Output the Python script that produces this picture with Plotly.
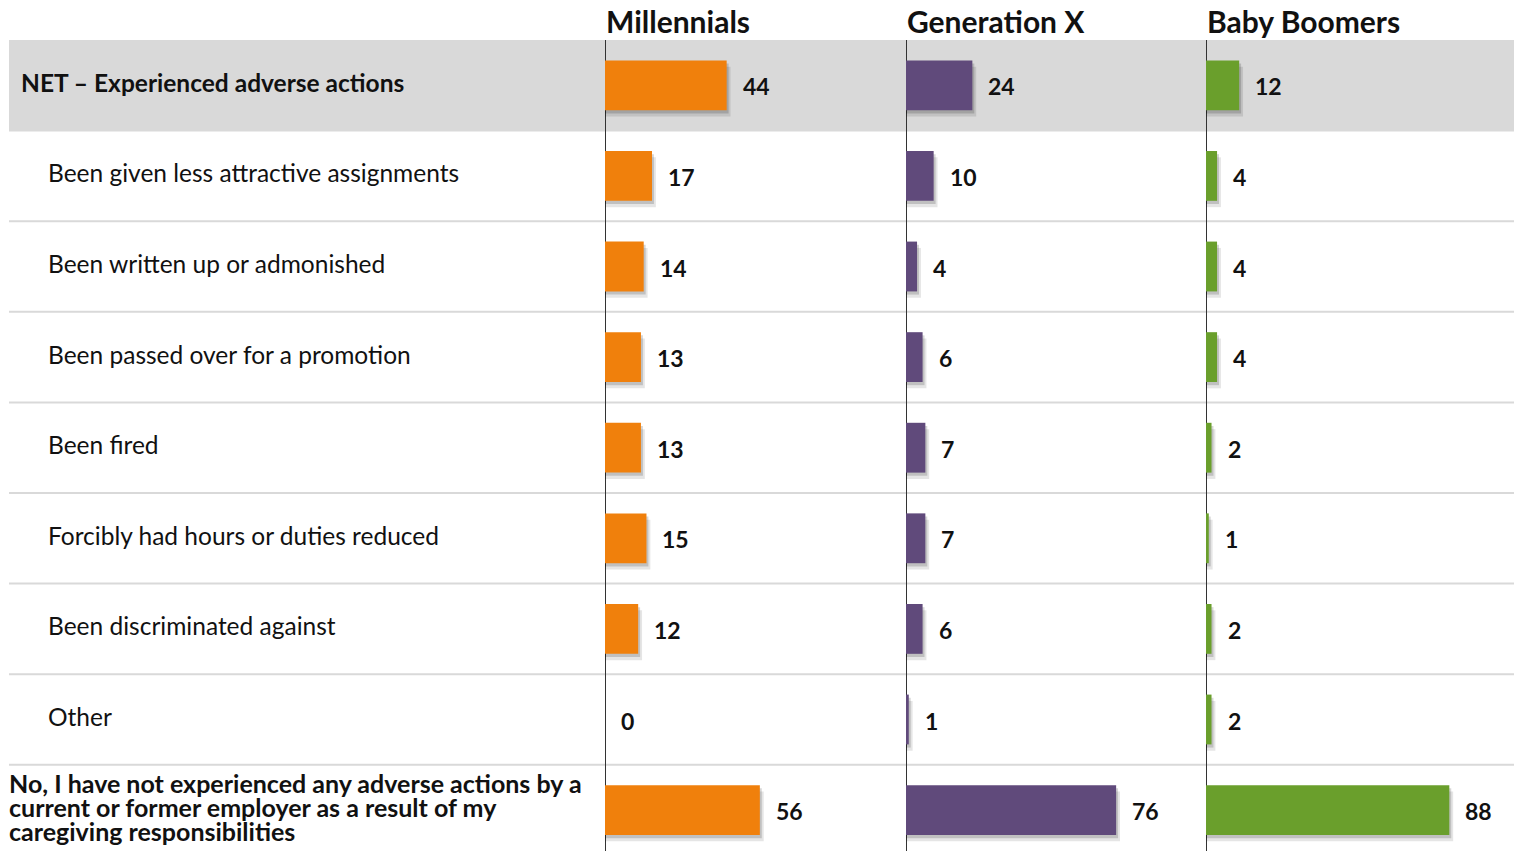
import plotly.graph_objects as go

# data
row_labels = [
    "NET \u2013 Experienced adverse actions",
    "Been given less attractive assignments",
    "Been written up or admonished",
    "Been passed over for a promotion",
    "Been fired",
    "Forcibly had hours or duties reduced",
    "Been discriminated against",
    "Other",
    "No, I have not experienced any adverse actions by a<br>current or former employer as a result of my<br>caregiving responsibilities",
]
generations = ["Millennials", "Generation X", "Baby Boomers"]
millennials = [44, 17, 14, 13, 13, 15, 12, 0, 56]
generation_x = [24, 10, 4, 6, 7, 7, 6, 1, 76]
baby_boomers = [12, 4, 4, 4, 2, 1, 2, 2, 88]

series = [millennials, generation_x, baby_boomers]
colors = ["#F0800C", "#604A7B", "#6A9F2C"]

W, H = 1514, 851
TOP = 40
FONT = "Lato"
panel_px = [(605, 906), (906, 1206), (1206, W)]
px_per_unit = 2.765
n_rows = len(row_labels)
rows = list(range(n_rows))
bar_w = 0.55
row_px = 90.6
TXT = "#111111"

fig = go.Figure()

for i, (vals, col) in enumerate(zip(series, colors)):
    xa = "x" if i == 0 else f"x{i + 1}"
    # soft drop shadow (two layers)
    for dx, dy, a in [(1.4, 0.07, 0.10), (0.7, 0.035, 0.16)]:
        fig.add_trace(go.Bar(
            y=rows, x=[v + dx if v > 0 else 0 for v in vals], orientation="h",
            width=bar_w, offset=-bar_w / 2 + dy,
            marker=dict(color=f"rgba(0,0,0,{a})", line=dict(width=0)),
            xaxis=xa, yaxis="y", hoverinfo="skip", showlegend=False,
        ))
    fig.add_trace(go.Bar(
        y=rows, x=vals, orientation="h", width=bar_w, offset=-bar_w / 2,
        marker=dict(color=col, line=dict(width=0)),
        xaxis=xa, yaxis="y", name=generations[i], showlegend=False,
    ))
    for r, v in zip(rows, vals):
        fig.add_annotation(
            x=v, y=r, xref=xa, yref="y", text=f"<b>{v}</b>", showarrow=False,
            xanchor="left", yanchor="middle", xshift=14, yshift=-1,
            font=dict(family=FONT, size=23, color=TXT),
        )
    x0, x1 = panel_px[i]
    fig.add_annotation(
        x=x0 / W, y=1, xref="paper", yref="paper", text=f"<b>{generations[i]}</b>",
        showarrow=False, xanchor="left", yanchor="middle", yshift=TOP - 21, xshift=-1,
        font=dict(family=FONT, size=30, color=TXT),
    )

# row labels
for r, lab in enumerate(row_labels):
    if r == 0:
        fig.add_annotation(x=19 / W, y=r, xref="paper", yref="y", text=f"<b>{lab}</b>",
                           showarrow=False, xanchor="left", yanchor="middle", yshift=3,
                           font=dict(family=FONT, size=24.5, color=TXT))
    elif r == n_rows - 1:
        lines = lab.split("<br>")
        for k, ln in enumerate(lines):
            fig.add_annotation(x=7 / W, y=r, xref="paper", yref="y", text=f"<b>{ln}</b>",
                               showarrow=False, xanchor="left", yanchor="middle",
                               yshift=(len(lines) - 1) / 2 * 24 - k * 24 + 3,
                               font=dict(family=FONT, size=25, color=TXT))
    else:
        fig.add_annotation(x=46 / W, y=r, xref="paper", yref="y", text=lab,
                           showarrow=False, xanchor="left", yanchor="middle", yshift=3,
                           font=dict(family=FONT, size=24.5, color=TXT))

# grey band and separators
fig.add_shape(type="rect", xref="paper", yref="y", x0=9 / W, x1=1, y0=-0.5, y1=0.5,
              fillcolor="#D9D9D9", line=dict(width=0), layer="below")
for r in range(1, n_rows):
    fig.add_shape(type="line", xref="paper", yref="y", x0=9 / W, x1=1,
                  y0=r - 0.5, y1=r - 0.5,
                  line=dict(color="#D9D9D9", width=2), layer="below")

layout_axes = {}
for i, (x0, x1) in enumerate(panel_px):
    key = "xaxis" if i == 0 else f"xaxis{i + 1}"
    layout_axes[key] = dict(
        domain=[x0 / W, x1 / W], range=[0, (x1 - x0) / px_per_unit],
        showgrid=False, showticklabels=False, zeroline=True, zerolinecolor="#333333",
        zerolinewidth=1, anchor="y", fixedrange=True,
    )

plot_h = H - TOP
fig.update_layout(
    width=W, height=H,
    margin=dict(l=0, r=0, t=TOP, b=0),
    paper_bgcolor="white", plot_bgcolor="rgba(0,0,0,0)",
    barmode="overlay",
    yaxis=dict(range=[plot_h / row_px - 0.5, -0.5], showgrid=False, zeroline=False,
               showticklabels=False, domain=[0, 1], anchor="x", fixedrange=True),
    font=dict(family=FONT),
    **layout_axes,
)

fig.write_html("out.html", config={"displayModeBar": False},
               post_script="document.body.style.margin='0';document.body.style.overflow='hidden';")
